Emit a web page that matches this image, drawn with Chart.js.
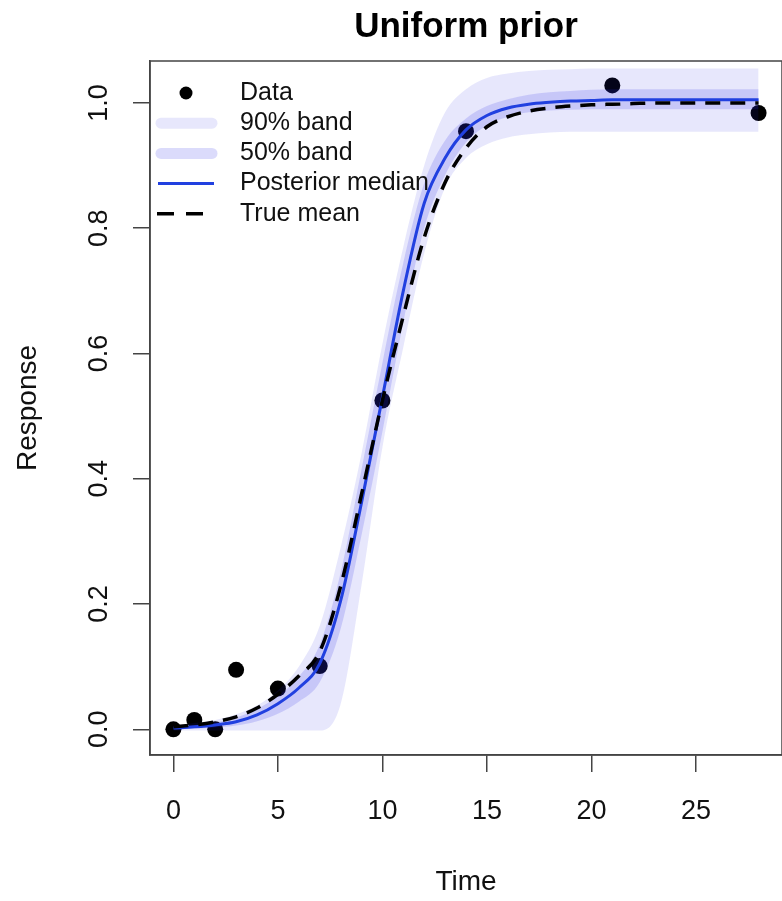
<!DOCTYPE html>
<html>
<head>
<meta charset="utf-8">
<script src="https://cdn.jsdelivr.net/npm/chart.js@4.4.1/dist/chart.umd.min.js"></script>
<style>
html, body { margin: 0; padding: 0; background: #fff; overflow: hidden; }
canvas { display: block; }
</style>
</head>
<body>
<canvas id="myChart" width="790" height="901"></canvas>
<script>
// values
var titleText = 'Uniform prior';
var xTicks = [0, 5, 10, 15, 20, 25];
var yTicks = [0, 0.2, 0.4, 0.6, 0.8, 1.0];

var dataTimes = [0, 1, 2, 3, 5, 7, 10, 14, 21, 28];
var dataValues = [0.0, 0.015, 0.0, 0.095, 0.065, 0.101, 0.525, 0.955, 1.028, 0.984];

var times = [0, 1, 2, 3, 4, 5, 6, 7, 8, 9, 10, 11, 12, 13, 14, 15, 16, 17, 18, 19, 20, 21, 22, 23, 24, 25, 26, 27, 28];
var median = [0.002, 0.004, 0.007, 0.012, 0.023, 0.041, 0.066, 0.105, 0.205, 0.362, 0.530, 0.700, 0.840, 0.912, 0.957,
     0.980, 0.992, 0.998, 1.001, 1.003, 1.004, 1.005, 1.005, 1.005, 1.005, 1.005, 1.005, 1.005, 1.005];
var trueMean = [0.004, 0.007, 0.012, 0.020, 0.034, 0.056, 0.085, 0.124, 0.228, 0.375, 0.525, 0.660, 0.785, 0.873, 0.928,
     0.962, 0.978, 0.987, 0.992, 0.995, 0.997, 0.998, 0.999, 1.0, 1.0, 1.0, 1.0, 1.0, 1.0];
var upper90 = [0.006, 0.010, 0.015, 0.024, 0.038, 0.062, 0.100, 0.165, 0.290, 0.440, 0.615, 0.770, 0.900, 0.985, 1.022,
     1.040, 1.047, 1.051, 1.053, 1.054, 1.055, 1.055, 1.055, 1.055, 1.055, 1.055, 1.055, 1.055, 1.055];
var lower90 = [-0.002, -0.002, -0.002, -0.002, -0.002, -0.002, -0.002, -0.002, 0.040, 0.230, 0.450, 0.610, 0.760, 0.865, 0.912,
     0.934, 0.945, 0.950, 0.953, 0.954, 0.954, 0.954, 0.954, 0.954, 0.954, 0.954, 0.954, 0.954, 0.954];
var upper50 = [0.004, 0.007, 0.011, 0.019, 0.032, 0.053, 0.084, 0.135, 0.250, 0.415, 0.585, 0.745, 0.872, 0.940, 0.975,
     0.995, 1.006, 1.013, 1.017, 1.019, 1.021, 1.022, 1.022, 1.022, 1.022, 1.022, 1.022, 1.022, 1.022];
var lower50 = [0.0, 0.001, 0.003, 0.006, 0.013, 0.025, 0.044, 0.075, 0.160, 0.310, 0.475, 0.650, 0.800, 0.885, 0.937,
     0.964, 0.978, 0.985, 0.988, 0.989, 0.990, 0.990, 0.990, 0.990, 0.990, 0.990, 0.990, 0.990, 0.990];

var legendLabels = ['Data', '90% band', '50% band', 'Posterior median', 'True mean'];

var band90 = 'rgba(40, 40, 230, 0.11)';
var band50 = 'rgba(40, 40, 230, 0.17)';
var blue = '#2140e0';
var axisColor = '#444';
var fontFamily = '"Liberation Sans", Arial, sans-serif';

function pts(ys, xs) {
     xs = xs || times;
     return xs.map(function (t, i) { return { x: t, y: ys[i] }; });
}

function bandLine(label, ys, fill, color, order) {
     return {
          label: label,
          data: pts(ys),
          borderWidth: 0,
          pointRadius: 0,
          cubicInterpolationMode: 'monotone',
          fill: fill,
          backgroundColor: color,
          order: order
     };
}

var frame = {
     id: 'frame',
     afterDraw: function (chart) {
          var ctx = chart.ctx;
          var a = chart.chartArea;
          ctx.save();
          ctx.strokeStyle = axisColor;
          ctx.lineWidth = 1.5;
          ctx.strokeRect(a.left, a.top, a.right - a.left, a.bottom - a.top);

          ctx.fillStyle = '#000';
          ctx.font = 'bold 35px ' + fontFamily;
          ctx.textAlign = 'center';
          ctx.textBaseline = 'alphabetic';
          ctx.fillText(titleText, (a.left + a.right) / 2, 37);

          // legend, no box
          var x0 = 157, x1 = 215, tx = 240;
          ctx.font = '25px ' + fontFamily;
          ctx.textAlign = 'left';
          ctx.textBaseline = 'middle';
          legendLabels.forEach(function (lab, i) {
               var y = 93 + i * 30.2;
               ctx.save();
               if (i === 0) {
                    ctx.fillStyle = '#000';
                    ctx.beginPath();
                    ctx.arc(186, y, 6.5, 0, Math.PI * 2);
                    ctx.fill();
               } else if (i === 1 || i === 2) {
                    ctx.strokeStyle = i === 1 ? band90 : band50;
                    ctx.lineWidth = 11;
                    ctx.lineCap = 'round';
                    ctx.beginPath();
                    ctx.moveTo(x0 + 4, y);
                    ctx.lineTo(x1 - 3, y);
                    ctx.stroke();
               } else if (i === 3) {
                    ctx.strokeStyle = blue;
                    ctx.lineWidth = 3;
                    ctx.beginPath();
                    ctx.moveTo(x0 + 1, y);
                    ctx.lineTo(x1 - 1, y);
                    ctx.stroke();
               } else {
                    ctx.strokeStyle = '#000';
                    ctx.lineWidth = 3.5;
                    ctx.setLineDash([17, 12]);
                    ctx.beginPath();
                    ctx.moveTo(x0, y);
                    ctx.lineTo(x0 + 46, y);
                    ctx.stroke();
               }
               ctx.restore();
               ctx.fillStyle = '#111';
               ctx.fillText(lab, tx, y);
          });
          ctx.restore();
     }
};

new Chart('myChart', {
     type: 'line',
     data: {
          datasets: [
               {
                    label: legendLabels[0],
                    data: pts(dataValues, dataTimes),
                    showLine: false,
                    pointRadius: 8,
                    pointBackgroundColor: '#000',
                    pointBorderWidth: 0,
                    order: 10
               },
               bandLine('90% upper', upper90, '+1', band90, 9),
               bandLine('90% lower', lower90, false, band90, 8),
               bandLine('50% upper', upper50, '+1', band50, 7),
               bandLine('50% lower', lower50, false, band50, 6),
               {
                    label: legendLabels[3],
                    data: pts(median),
                    borderColor: blue,
                    borderWidth: 3,
                    pointRadius: 0,
                    fill: false,
                    cubicInterpolationMode: 'monotone',
                    order: 2
               },
               {
                    label: legendLabels[4],
                    data: pts(trueMean),
                    borderColor: '#000',
                    borderWidth: 3.5,
                    borderDash: [15, 10],
                    pointRadius: 0,
                    fill: false,
                    cubicInterpolationMode: 'monotone',
                    order: 1
               }
          ]
     },
     options: {
          responsive: false,
          animation: false,
          devicePixelRatio: 1,
          layout: { padding: { top: 61, right: 4.5, left: 0, bottom: 0 } },
          plugins: {
               legend: { display: false },
               title: { display: false },
               tooltip: { enabled: false }
          },
          scales: {
               x: {
                    type: 'linear',
                    position: 'bottom',
                    min: -1.12,
                    max: 29.12,
                    afterBuildTicks: function (scale) {
                         scale.ticks = xTicks.map(function (v) { return { value: v }; });
                    },
                    afterFit: function (scale) { scale.height = 146; },
                    grid: { drawOnChartArea: false, drawTicks: true, tickLength: 17, color: axisColor, lineWidth: 1.5 },
                    border: { display: true, color: axisColor, width: 1.5 },
                    ticks: {
                         padding: 23,
                         color: '#111',
                         maxRotation: 0,
                         autoSkip: false,
                         font: { family: fontFamily, size: 27 },
                         callback: function (v) { return String(v); }
                    },
                    title: {
                         display: true,
                         text: 'Time',
                         color: '#111',
                         font: { family: fontFamily, size: 28 },
                         padding: { top: 0, bottom: 2 }
                    }
               },
               y: {
                    type: 'linear',
                    position: 'left',
                    min: -0.041,
                    max: 1.067,
                    afterBuildTicks: function (scale) {
                         scale.ticks = yTicks.map(function (v) { return { value: v }; });
                    },
                    afterFit: function (scale) { scale.width = 150; },
                    grid: { drawOnChartArea: false, drawTicks: true, tickLength: 17, color: axisColor, lineWidth: 1.5 },
                    border: { display: true, color: axisColor, width: 1.5 },
                    ticks: {
                         padding: 15,
                         color: '#111',
                         minRotation: 90,
                         maxRotation: 90,
                         crossAlign: 'center',
                         autoSkip: false,
                         font: { family: fontFamily, size: 27 },
                         callback: function (v) { return Number(v).toFixed(1); }
                    },
                    title: {
                         display: true,
                         text: 'Response',
                         color: '#111',
                         font: { family: fontFamily, size: 28 },
                         padding: { top: 11, bottom: 0 }
                    }
               }
          }
     },
     plugins: [frame]
});
</script>
</body>
</html>
